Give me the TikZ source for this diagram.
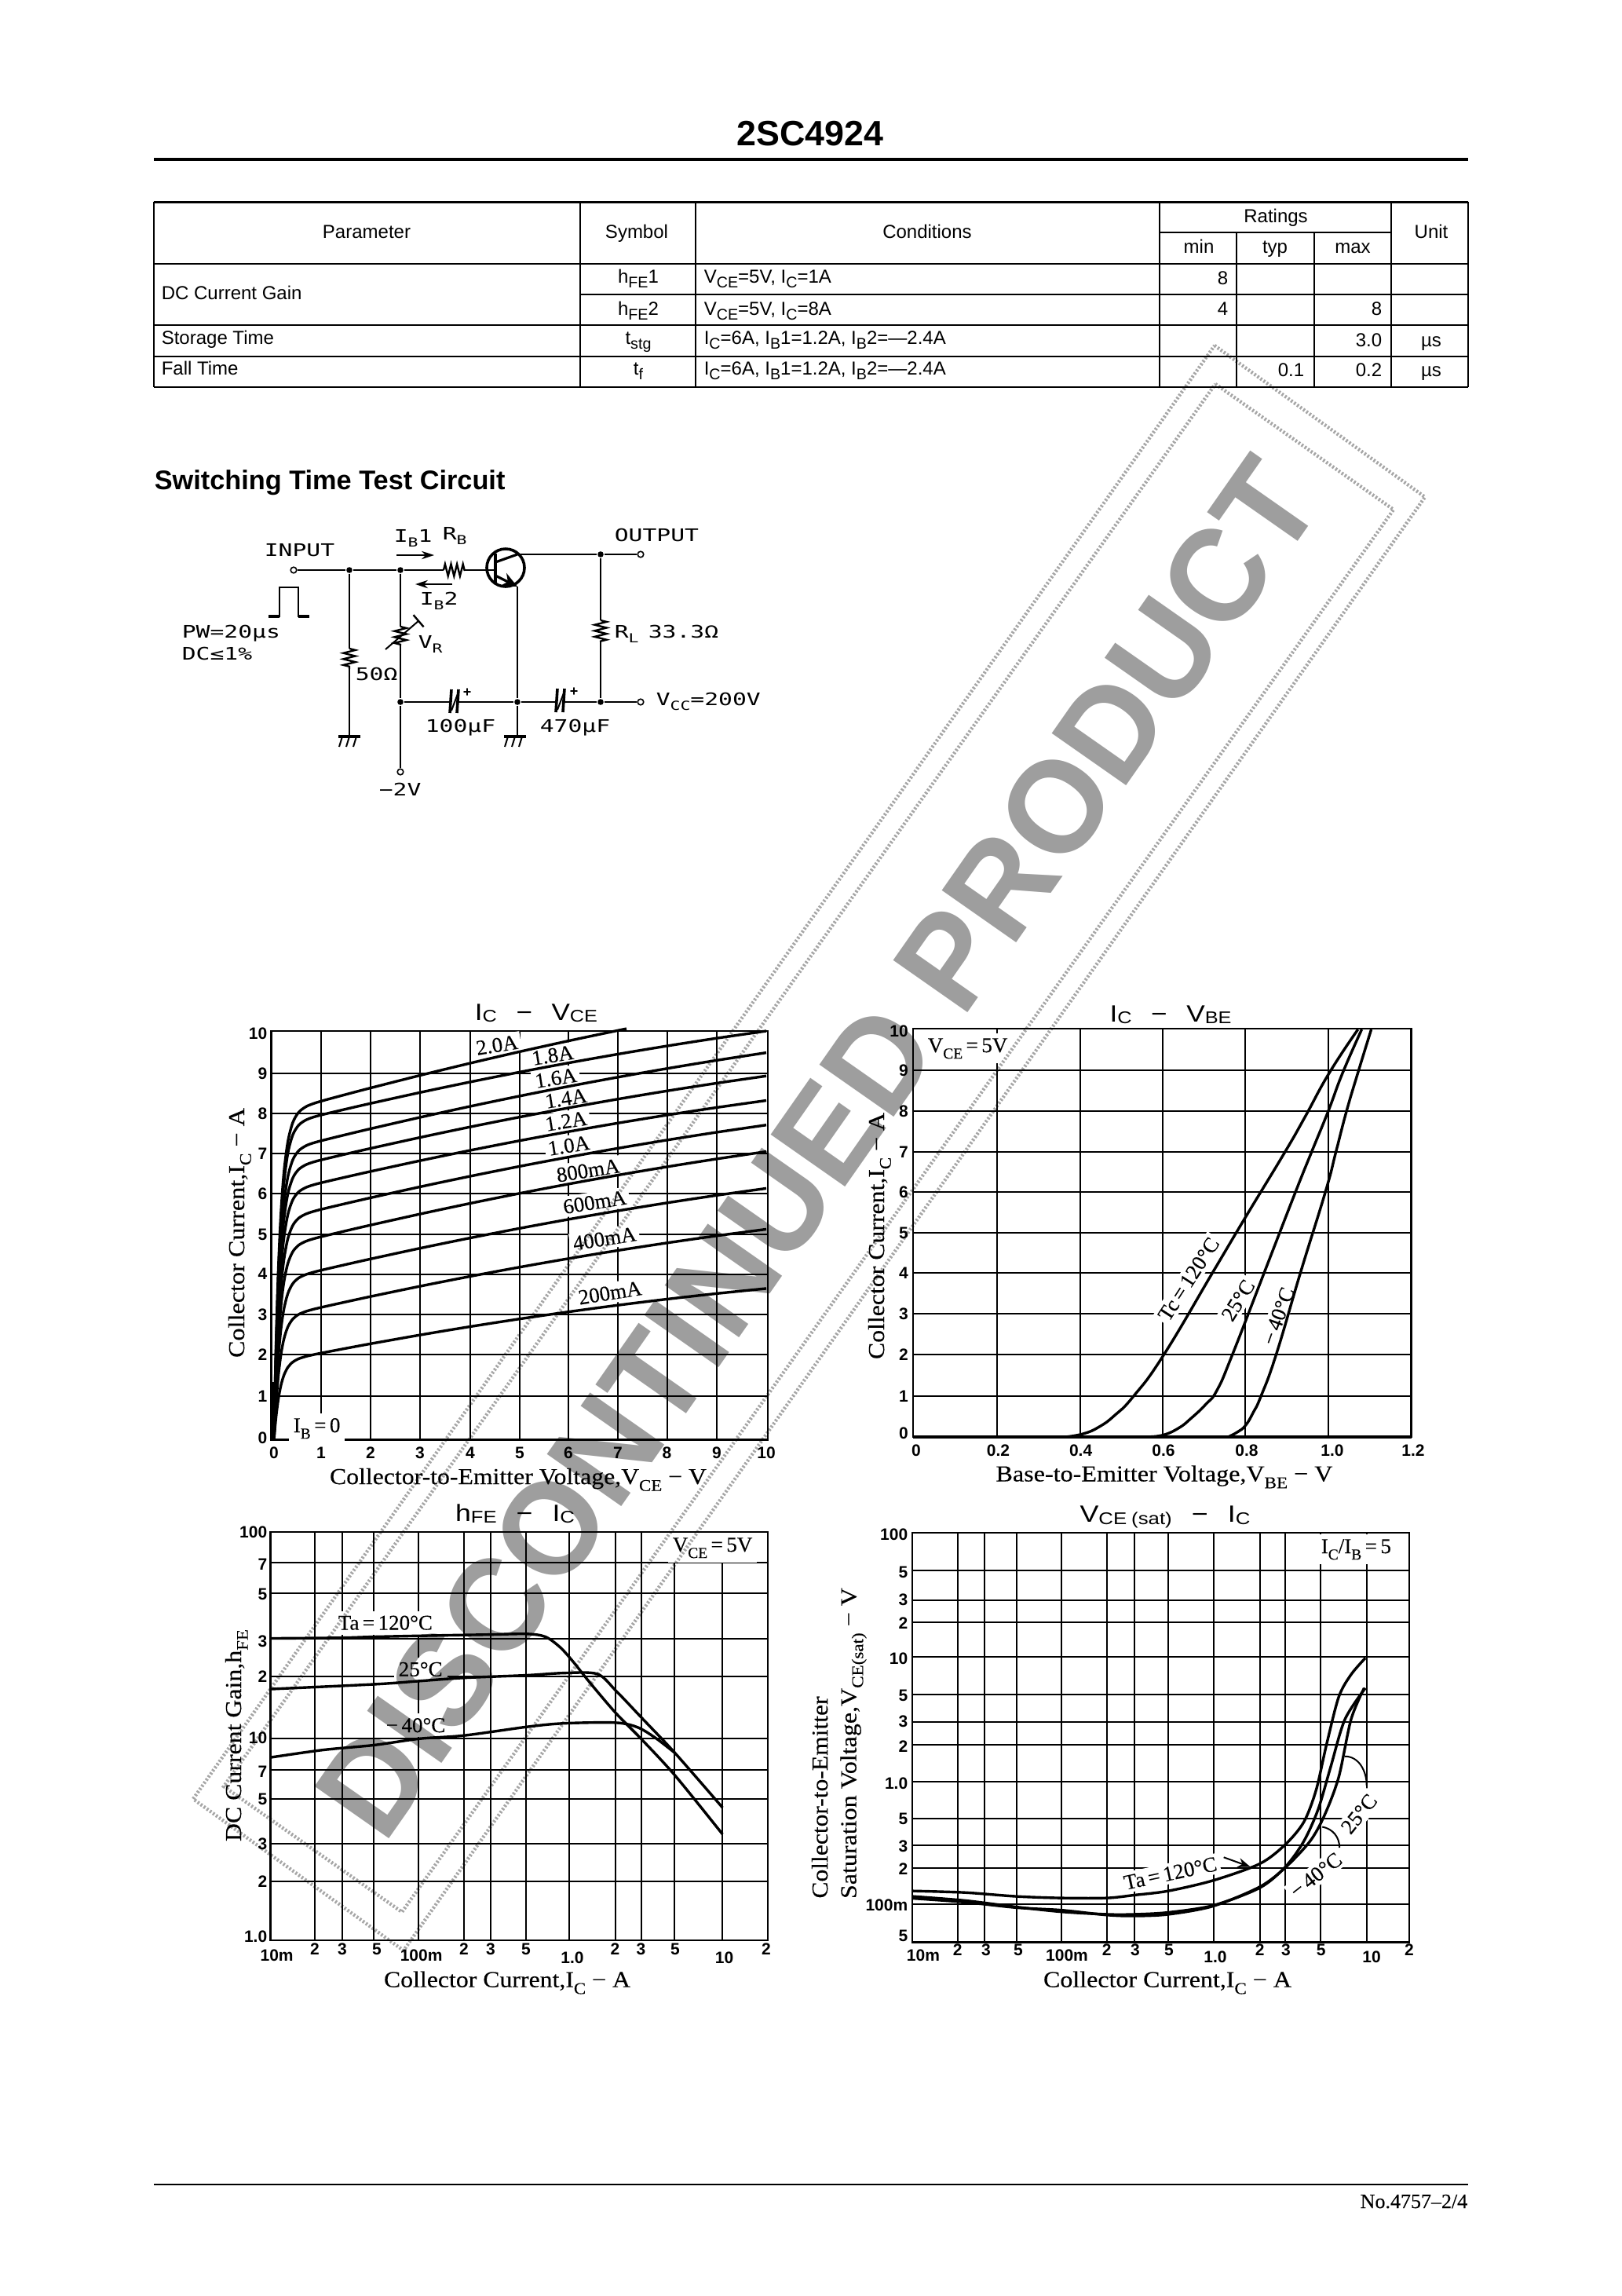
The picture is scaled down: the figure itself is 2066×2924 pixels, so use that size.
\documentclass[tikz,border=0pt]{standalone}
\usepackage{fontspec}
\usepackage{graphicx}
\usetikzlibrary{arrows.meta,decorations.pathmorphing,shapes.geometric}
\setmainfont{Liberation Sans}
\newfontfamily\serfont[FakeBold=0.25]{Liberation Serif}
\newfontfamily\ckfont{DejaVu Sans Mono}
\newdimen\pxu \pxu=.25pt
\newcommand\pxf[1]{\fontsize{\the\dimexpr#1pt/4\relax}{\the\dimexpr#1pt/3\relax}\selectfont}
\newcommand\dn[1]{\raisebox{-.3em}{\scalebox{.72}{#1}}}
\newcommand\dnt[1]{\raisebox{-.28em}{\scalebox{.82}{#1}}}
\newcommand\tdn[1]{\raisebox{-.09em}{\scalebox{.72}{#1}}}
\newcommand\wb[2]{\resizebox{#1\pxu}{\height}{#2}}
\newcommand\ck[1]{\scalebox{1.35}[1]{\pxf{22}\ckfont #1}}
\newcommand\gnd[1]{\draw[wthick] (#1) ++(-14,0) -- ++(28,0);
  \foreach \s in {-9,0,9} \draw[wire] (#1) ++(\s,0) -- ++(-4,13);}
\tikzset{
  frame/.style={line width=.65pt},
  grd/.style={line width=.5pt},
  curve/.style={line width=.85pt,line join=round},
  wire/.style={line width=.5pt},
  wthin/.style={line width=.35pt},
  wthick/.style={line width=.8pt},
  zz/.style={line width=.6pt,decorate,decoration={zigzag,amplitude=1.9pt,segment length=1.9pt}},
  tb/.style={line width=.6pt},
  tv/.style={line width=.45pt},
  t/.style={inner sep=0pt,anchor=base,font=\pxf{24}},
  tl/.style={inner sep=0pt,anchor=base west,font=\pxf{24}},
  tr/.style={inner sep=0pt,anchor=base east,font=\pxf{24}},
  ck/.style={inner sep=0pt,anchor=base west},
  dot/.style={circle,fill=black,inner sep=0pt,minimum size=1.9pt},
  term/.style={circle,draw,fill=white,line width=.4pt,inner sep=0pt,minimum size=1.9pt},
  tick/.style={inner sep=0pt,font=\pxf{21}\bfseries},
  ytick/.style={tick,anchor=east},
  gt/.style={inner sep=0pt,anchor=base,font=\pxf{30}},
  ax/.style={inner sep=0pt,anchor=base,font=\pxf{29}\serfont},
  lb/.style={inner sep=1pt,fill=white,font=\pxf{27}\serfont},
  nt/.style={inner sep=1.5pt,fill=white,anchor=base west,font=\pxf{27}\serfont},
  capplate/.style={line width=.9pt},
}
\begin{document}
\begin{tikzpicture}[x=.25pt,y=-.25pt,line cap=butt]
\useasboundingbox (0,0) rectangle (2066,2924);
\fill[white] (0,0) rectangle (2066,2924);

% ---------- header
\node[inner sep=0pt,anchor=base,font=\pxf{44.8}\bfseries] (title) at (1032,185) {2SC4924};
\coordinate (hl) at (196,203); \coordinate (hr) at (1870,203);
\draw[line width=.8pt] (hl) -- (hr);

% ---------- table
\draw[tb,line width=.75pt] (196,257) -- (1870,257);
\foreach \y in {336,414,454,493} \draw[tb] (196,\y) -- (1870,\y);
\draw[tb] (739,375) -- (1870,375);
\draw[tb] (1477,296) -- (1772,296);
\foreach \x in {196,739,886,1477,1772,1870} \draw[tv] (\x,257) -- (\x,493);
\foreach \x in {1575,1674} \draw[tv] (\x,296) -- (\x,493);

\node[t] (h1) at (467,303) {Parameter};
\node[t] (h2) at (811,303) {Symbol};
\node[t] (h3) at (1181,303) {Conditions};
\node[t] (h4) at (1625,283) {Ratings};
\node[t] (h5) at (1823,303) {Unit};
\node[t] (h6) at (1527,322) {min};
\node[t] (h7) at (1624,322) {typ};
\node[t] (h8) at (1723,322) {max};

\node[tl] (dc) at (205,381) {DC Current Gain};
\node[t] (s1) at (813,360) {h\dnt{FE}1};
\node[tl] (c1) at (896,360) {V\dnt{CE}=5V, I\dnt{C}=1A};
\node[tr] (v1) at (1565,362) {8};
\node[t] (s2) at (813,401) {h\dnt{FE}2};
\node[tl] (c2) at (896,401) {V\dnt{CE}=5V, I\dnt{C}=8A};
\node[tr] (v2) at (1565,401) {4};
\node[tr] (v3) at (1761,401) {8};
\node[tl] (st) at (205,438) {Storage Time};
\node[t] (s3) at (813,438) {t\dnt{stg}};
\node[tl] (c3) at (896,438) {I\dnt{C}=6A, I\dnt{B}1=1.2A, I\dnt{B}2=—2.4A};
\node[tr] (v4) at (1761,441) {3.0};
\node[t] (u1) at (1823,441) {µs};
\node[tl] (ft) at (205,477) {Fall Time};
\node[t] (s4) at (813,477) {t\dnt{f}};
\node[tl] (c4) at (896,477) {I\dnt{C}=6A, I\dnt{B}1=1.2A, I\dnt{B}2=—2.4A};
\node[tr] (v5) at (1662,479) {0.1};
\node[tr] (v6) at (1761,479) {0.2};
\node[t] (u2) at (1823,479) {µs};

\node[inner sep=0pt,anchor=base west,font=\pxf{34.3}\bfseries] (sect) at (196,623) {Switching Time Test Circuit};

% ---------- circuit
\node[term] (in) at (374,726) {};
\node[dot] (n1) at (445,726) {};
\node[dot] (n2) at (510,726) {};
\coordinate (rb1) at (565,726); \coordinate (rb2) at (592,726);
\coordinate (qb) at (631,726);
\node[circle,draw,line width=.9pt,inner sep=0pt,minimum size=12pt] (q) at (644,723) {};
\coordinate (qbt) at (631,705); \coordinate (qbb) at (631,742);
\coordinate (qc1) at (631,716); \coordinate (qc2) at (659,706);
\coordinate (qe1) at (631,733); \coordinate (qe2) at (659,747);
\node[dot] (n3) at (765,706) {};
\node[term] (out) at (816,706) {};
\draw[wire] (in) -- (n1); \draw[wire] (n1) -- (n2); \draw[wire] (n2) -- (rb1);
\draw[zz] (rb1) -- (rb2);
\draw[wthin] (rb2) -- (qb);
\draw[wthick] (qbt) -- (qbb);
\draw[wthick] (qc1) -- (qc2);
\draw[wthick,-{Stealth[length=5pt,width=4.5pt]}] (qe1) -- (qe2);
\draw[wire] (qc2) -- (n3); \draw[wthin] (n3) -- (out);
\node[dot] (n4) at (510,894) {};
\node[dot] (n5) at (659,894) {};
\node[dot] (n6) at (765,894) {};
\node[term] (vcc) at (816,894) {};
\node[term] (vm) at (510,983) {};
\coordinate (c1a) at (574,894); \coordinate (c1b) at (583,894);
\coordinate (c2a) at (709,894); \coordinate (c2b) at (718,894);
\draw[wire] (n4) -- (c1a); \draw[wire] (c1b) -- (n5); \draw[wire] (n5) -- (c2a); \draw[wire] (c2b) -- (n6); \draw[wthin] (n6) -- (vcc);
\draw[capplate] (575,878) -- (573,908); \draw[capplate] (584,878) -- (582,908); \draw[wire] (575,905) -- (584,881);
\draw[capplate] (710,877) -- (708,907); \draw[capplate] (719,877) -- (717,907); \draw[wire] (710,904) -- (719,880);
\draw[wthin] (qe2) -- (n5);
\coordinate (g2) at (656,938); \draw[wire] (n5) -- (659,938);
\gnd{g2}
% 50 ohm
\coordinate (r1a) at (445,826); \coordinate (r1b) at (445,852); \coordinate (g1) at (445,938);
\draw[wire] (n1) -- (r1a); \draw[zz] (r1a) -- (r1b); \draw[wire] (r1b) -- (g1);
\gnd{g1}
% VR
\coordinate (vr1) at (510,798); \coordinate (vr2) at (510,822);
\draw[wire] (n2) -- (vr1); \draw[zz] (vr1) -- (vr2); \draw[wire] (vr2) -- (n4); \draw[wire] (n4) -- (vm);
\coordinate (va) at (491,827); \coordinate (vb) at (534,790);
\draw[wire,-{Bar[width=5pt,line width=.6pt]}] (va) -- (vb);
% RL
\coordinate (rl1) at (765,790); \coordinate (rl2) at (765,817);
\draw[wire] (n3) -- (rl1); \draw[zz] (rl1) -- (rl2); \draw[wire] (rl2) -- (n6);
% arrows
\coordinate (a1) at (505,707); \coordinate (a2) at (553,707);
\draw[wthin,-{Stealth[length=4pt,width=2.6pt]}] (a1) -- (a2);
\coordinate (a3) at (576,744); \coordinate (a4) at (529,744);
\draw[wthin,-{Stealth[length=4pt,width=2.6pt]}] (a3) -- (a4);
% pulse
\draw[wire,line join=miter] (342,785) -- (356,785) -- (356,748) -- (380,748) -- (380,785) -- (394,785);
\draw[wthick] (342,785) -- (356,785); \draw[wthick] (380,785) -- (394,785);
% circuit labels
\node[ck] (l1) at (336,708) {\ck{INPUT}};
\node[ck] (l2) at (782,689) {\ck{OUTPUT}};
\node[ck] (l3) at (501,690) {\ck{I\dn{B}1}};
\node[ck] (l4) at (563,687) {\ck{R\dn{B}}};
\node[ck] (l5) at (534,770) {\ck{I\dn{B}2}};
\node[ck] (l6) at (231,812) {\ck{PW=20µs}};
\node[ck] (l7) at (231,840) {\ck{DC≤1\%}};
\node[ck] (l8) at (452,866) {\ck{50Ω}};
\node[ck] (l9) at (532,825) {\ck{V\dn{R}}};
\node[ck] (l10) at (782,812) {\ck{R\dn{L}}};
\node[ck] (l11) at (825,812) {\ck{33.3Ω}};
\node[ck] (l12) at (541,932) {\ck{100µF}};
\node[ck] (l13) at (687,932) {\ck{470µF}};
\node[ck] (l14) at (835,898) {\ck{V\dn{CC}=200V}};
\node[ck] (l15) at (482,1013) {\ck{−2V}};
\node[inner sep=0pt,font=\pxf{18}\bfseries] (p1) at (595,882) {+};
\node[inner sep=0pt,font=\pxf{18}\bfseries] (p2) at (731,881) {+};

% ========== graph 1  IC-VCE
\foreach \x in {409,472,535,599,662,724,787,849.5,913} \draw[grd] (\x,1313) -- (\x,1833.5);
\foreach \y in {1367,1418,1469,1520,1572,1622.5,1674,1725,1778} \draw[grd] (345.5,\y) -- (978,\y);
\draw[frame] (345.5,1313) rectangle (978,1833.5);
\draw[line width=.9pt] (349,1833.5) -- (349,1760);
\draw[line width=.9pt] (345.5,1833.5) -- (978,1833.5);
\foreach \v/\y in {10/1316,9/1367,8/1418,7/1469,6/1520,5/1572,4/1622.5,3/1674,2/1725,1/1778,0/1831}
  \node[ytick] (ga\v) at (341,\y) {\v};
\foreach \v/\x in {0/349,1/409,2/472,3/535,4/599,5/662,6/724,7/787,8/849.5,9/913,10/976}
  \node[tick] (gb\v) at (\x,1850) {\v};
\node[gt] (gat) at (683,1299) {\wb{156}{I\tdn{C}\hspace{.7em}−\hspace{.7em}V\tdn{CE}}};
\node[ax] (gax) at (660,1890) {\wb{480}{Collector-to-Emitter Voltage,V\dn{CE} − V}};
\node[ax,rotate=90] (gay) at (311,1570) {\wb{318}{Collector Current,I\dn{C} − A}};
\node[nt] (gib) at (367,1824) {I\dn{B}\,=\,0};
\foreach \n/\s/\x/\y in {a/2.0A/633/1331,b/1.8A/704/1344,c/1.6A/708/1373,d/1.4A/721/1399,e/1.2A/721/1428,f/1.0A/724.5/1459,g/800mA/749/1490.6,h/600mA/757.5/1531,i/400mA/770/1577.5,j/200mA/777/1646.5}
  \node[lb,rotate=9] (cl\n) at (\x,\y) {\s};
\def\sv{.001,.02,.05,.09,.14,.2,.28,.38,.5,.65,.8,1,1.5,2,3,4,5,6,7,8,9,10}
\foreach \a/\b in {7.96/10,7.33/9.47,6.86/8.9,6.3/8.3,5.65/7.7,4.98/7.05,4.16/6.15,3.25/5.15,2.13/3.7}
  \draw[curve] plot[smooth,samples at=\sv] ({349+62.7*\x},{1833.5-52.05*(\a+(\b-\a)*(\x-1)/9+.13*(\x-1)*(10-\x)/20)*(1-exp(-\x/.12))});
\draw[curve] plot[smooth,samples at={.001,.02,.05,.09,.14,.2,.28,.38,.5,.65,.8,1,1.5,2,3,4,5,6,7,7.16}] ({349+62.7*\x},{1833.5-52.05*(8.3+2.4*(\x-1)/9+.13*(\x-1)*(10-\x)/20)*(1-exp(-\x/.12))});

% ========== graph 2  IC-VBE
\foreach \x in {1270,1376,1481,1586,1692} \draw[grd] (\x,1310) -- (\x,1830);
\foreach \y in {1363,1415,1467,1518,1570,1621,1673,1725,1778} \draw[grd] (1163,\y) -- (1797.5,\y);
\draw[frame] (1163,1310) rectangle (1797.5,1830);
\draw[line width=.9pt] (1163,1830) -- (1797.5,1830);
\foreach \v/\y in {10/1313,9/1363,8/1415,7/1467,6/1518,5/1570,4/1621,3/1673,2/1725,1/1778,0/1825}
  \node[ytick] (gc\v) at (1157.5,\y) {\v};
\foreach \n/\v/\x in {a/0/1167,b/0.2/1271.5,c/0.4/1376.6,d/0.6/1482,e/0.8/1588,f/1.0/1697,g/1.2/1800}
  \node[tick] (gd\n) at (\x,1847) {\v};
\node[gt] (gbt) at (1491,1301) {\wb{155}{I\tdn{C}\hspace{.7em}−\hspace{.7em}V\tdn{BE}}};
\node[ax] (gbx) at (1483,1886.5) {\wb{429}{Base-to-Emitter Voltage,V\dn{BE} − V}};
\node[ax,rotate=90] (gby) at (1126,1574) {\wb{314}{Collector Current,I\dn{C} − A}};
\node[nt] (gbv) at (1175,1340) {V\dn{CE}\,=\,5V};
\node[lb,rotate=57] (gbl1) at (1514,1629) {Tc\,=\,120°C};
\node[lb,rotate=58] (gbl2) at (1577,1656) {25°C};
\node[lb,rotate=70] (gbl3) at (1628,1676) {−\,40°C};
\begin{scope}[shift={(1080,1260)},x=.1212pt,y=-.10204pt]
\draw[curve] plot[smooth,tension=.8] coordinates {(575,1396)(620,1386)(660,1365)(700,1330)(750,1270)(830,1140)(960,880)(1045,710)(1148,508)(1200,400)(1265,260)(1340,125)};
\draw[curve] plot[smooth,tension=.8] coordinates {(790,1396)(830,1390)(870,1368)(900,1340)(940,1295)(970,1250)(1010,1140)(1095,880)(1175,635)(1218,508)(1262,380)(1300,260)(1350,125)};
\draw[curve] plot[smooth,tension=.8] coordinates {(1000,1396)(1025,1380)(1045,1360)(1065,1320)(1085,1270)(1125,1140)(1190,880)(1255,630)(1282,508)(1310,380)(1340,260)(1375,125)};
\end{scope}

% ========== graph 3  hFE-IC
\foreach \x in {401,436,476,533,591,625,670,725,783.5,816.5,859,920} \draw[grd] (\x,1951) -- (\x,2471);
\foreach \y in {1990,2028.6,2087,2135,2213.5,2254,2291,2348,2396} \draw[grd] (344.6,\y) -- (978,\y);
\draw[frame] (344.6,1951) rectangle (978,2471);
\foreach \n/\v/\y in {a/100/1951,b/7/1992,c/5/2030,d/3/2090,e/2/2135,f/10/2213.5,g/7/2256,h/5/2291,i/3/2348,j/2/2396,k/1.0/2466}
  \node[ytick] (ge\n) at (341,\y) {\v};
\foreach \n/\v/\x/\y in {a/10m/352.6/2490.6,b/2/401/2482,c/3/436/2482,d/5/480/2482,e/100m/536.6/2490.6,f/2/591/2482,g/3/625/2482,h/5/670/2482,i/1.0/729/2493,j/2/783.5/2482,k/3/816.5/2482,l/5/860/2482,m/10/922.6/2493,n/2/976/2482}
  \node[tick] (gf\n) at (\x,\y) {\v};
\node[gt] (gct) at (656,1937) {\wb{152}{h\tdn{FE}\hspace{.7em}−\hspace{.7em}I\tdn{C}}};
\node[ax] (gcx) at (646,2530.6) {\wb{314}{Collector Current,I\dn{C} − A}};
\node[ax,rotate=90] (gcy) at (307,2210) {\wb{270}{DC Current Gain,h\dn{FE}}};
\node[nt] (gcv) at (850,1976) {V\dn{CE}\,=\,5V};
\node[nt] (gcl1) at (424,2075.5) {Ta\,=\,120°C};
\node[nt] (gcl2) at (501,2134.7) {25°C};
\node[nt] (gcl3) at (485,2206) {−\,40°C};
\begin{scope}[shift={(270,1900)},x=.11798pt,y=-.10204pt]
\draw[curve] plot[smooth,tension=.5] coordinates {(160,457)(350,455)(437,452)(600,448)(750,445)(850,443)(900,452)(940,485)(975,530)(1020,595)(1090,690)(1158,770)(1250,885)(1378,1068)};
\draw[curve] plot[smooth,tension=.5] coordinates {(160,615)(440,600)(560,590)(680,580)(850,572)(950,565)(1040,568)(1090,620)(1160,705)(1250,815)(1378,985)};
\draw[curve] plot[smooth,tension=.5] coordinates {(160,828)(300,805)(437,790)(560,770)(680,760)(850,733)(950,722)(1090,720)(1150,735)(1200,770)(1250,815)};
\end{scope}

% ========== graph 4  VCEsat-IC
\foreach \x in {1219.8,1254,1294.6,1352,1409.6,1444.7,1488,1545.6,1604.7,1637,1681.6,1740.7} \draw[grd] (\x,1952) -- (\x,2473.5);
\foreach \y in {2000,2038,2066,2110,2158,2192.6,2222.4,2269.4,2316,2350,2379,2424.5} \draw[grd] (1162,\y) -- (1795,\y);
\draw[frame] (1162,1952) rectangle (1795,2473.5);
\foreach \n/\v/\y in {a/100/1954,b/5/2002,c/3/2037,d/2/2067,e/10/2112,f/5/2159,g/3/2192,h/2/2224,i/1.0/2271,j/5/2316,k/3/2351,l/2/2380,m/100m/2426,n/5/2465}
  \node[ytick] (gg\n) at (1157,\y) {\v};
\foreach \n/\v/\x/\y in {a/10m/1176/2490,b/2/1219.8/2483,c/3/1256/2483,d/5/1297/2483,e/100m/1359/2490,f/2/1409.6/2483,g/3/1446/2483,h/5/1489/2483,i/1.0/1548/2492.6,j/2/1604.7/2483,k/3/1638/2483,l/5/1682.6/2483,m/10/1747/2492.6,n/2/1795/2483}
  \node[tick] (gh\n) at (\x,\y) {\v};
\node[gt] (gdt) at (1484,1938.8) {\wb{217}{V\tdn{CE}\,\tdn{(sat)}\hspace{.7em}−\hspace{.7em}I\tdn{C}}};
\node[ax] (gdx) at (1487,2530.6) {\wb{316}{Collector Current,I\dn{C} − A}};
\node[ax,rotate=90] (gdy1) at (1054,2289) {\wb{257}{Collector-to-Emitter}};
\node[ax,rotate=90] (gdy2) at (1090.6,2220) {\wb{396}{Saturation Voltage,V\dn{CE(sat)} − V}};
\node[nt] (gdv) at (1676,1978) {I\dn{C}/I\dn{B}\,=\,5};
\node[lb,rotate=12] (gdl1) at (1490.7,2385.7) {Ta\,=\,120°C};
\node[lb,rotate=51] (gdl2) at (1731,2310) {25°C};
\node[lb,rotate=38] (gdl3) at (1676,2388) {−\,40°C};
\begin{scope}[shift={(1020,1900)},x=.13075pt,y=-.10204pt]
\draw[curve] plot[smooth,tension=.5] coordinates {(272,1245)(400,1250)(525,1262)(635,1267)(745,1267)(812,1258)(895,1245)(1005,1212)(1118,1160)(1180,1100)(1225,1030)(1255,930)(1280,790)(1310,640)(1340,570)(1375,518)};
\draw[curve] plot[smooth,tension=.5] coordinates {(272,1262)(400,1275)(525,1295)(635,1310)(745,1318)(812,1318)(895,1312)(1005,1290)(1118,1235)(1180,1170)(1225,1090)(1260,990)(1290,860)(1325,710)(1375,612)};
\draw[curve] plot[smooth,tension=.5] coordinates {(272,1268)(400,1280)(525,1297)(635,1305)(745,1320)(812,1323)(895,1318)(1005,1292)(1118,1232)(1180,1172)(1240,1090)(1275,1010)(1310,890)(1340,710)(1372,612)};
\coordinate (ld1) at (1030,1140); \coordinate (ld2) at (1095,1170);
\draw[wire,-{Stealth[length=4pt,width=3pt]}] (ld1) -- (ld2);
\coordinate (ld3) at (1325,825); \coordinate (ld4) at (1378,915);
\draw[wire] (ld3) to[out=0,in=90] (ld4);
\coordinate (ld5) at (1270,1045); \coordinate (ld6) at (1312,1110);
\draw[wire] (ld5) to[out=-10,in=90] (ld6);
\end{scope}

% ---------- footer
\draw[line width=.5pt] (196,2782) -- (1870,2782);
\node[inner sep=0pt,anchor=base east,font=\pxf{26}\serfont] (foot) at (1870,2812) {No.4757–2/4};

% ---------- stamp
\begin{scope}[blend mode=multiply]
\coordinate (oa) at (1547,440); \coordinate (ob) at (1815,633); \coordinate (oc) at (514,2484); \coordinate (od) at (246,2291);
\coordinate (ia) at (1548,489); \coordinate (ib) at (1775,649); \coordinate (ic) at (512,2435); \coordinate (id) at (285,2275);
\draw[black!35,line width=1.1pt,dash pattern=on .6pt off .6pt] (oa) -- (ob) -- (oc) -- (od) -- cycle;
\draw[black!35,line width=1.1pt,dash pattern=on .6pt off .6pt] (ia) -- (ib) -- (ic) -- (id) -- cycle;
\node[inner sep=0pt,anchor=base west,rotate=55,text=black!38,font=\pxf{168}\bfseries] (wm) at (489,2351) {\wb{2090}{DISCONTINUED PRODUCT}};
\end{scope}
\end{tikzpicture}
\end{document}
